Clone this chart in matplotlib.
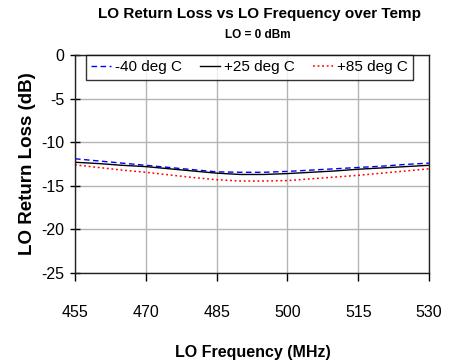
import matplotlib
matplotlib.use("Agg")
import matplotlib.pyplot as plt

freq = [455, 460, 465, 470, 475, 480, 485, 490, 495, 500, 505, 510, 515, 520, 525, 530]
rl_m40 = [-11.9, -12.15, -12.4, -12.65, -12.9, -13.15, -13.4, -13.45, -13.45, -13.35, -13.2, -13.05, -12.9, -12.75, -12.55, -12.4]
rl_p25 = [-12.3, -12.45, -12.65, -12.8, -13.05, -13.3, -13.55, -13.7, -13.7, -13.6, -13.45, -13.3, -13.1, -12.95, -12.8, -12.65]
rl_p85 = [-12.6, -12.9, -13.2, -13.45, -13.75, -14.05, -14.3, -14.45, -14.45, -14.4, -14.2, -14.0, -13.8, -13.55, -13.3, -13.05]
labels = ["-40 deg C", "+25 deg C", "+85 deg C"]
xticks = [455, 470, 485, 500, 515, 530]
yticks = [0, -5, -10, -15, -20, -25]

plt.rcParams['font.family'] = ['Liberation Sans', 'DejaVu Sans']
plt.rcParams['axes.unicode_minus'] = False

fig = plt.figure(figsize=(4.56, 3.64), dpi=100)
ax = fig.add_axes([75/456, 1-273/364, (429-75)/456, (273-55)/364])

ax.plot(freq, rl_m40, color='#0000ff', ls=(0, (4, 2.5)), lw=1, label=labels[0])
ax.plot(freq, rl_p25, color='black', ls='-', lw=1, label=labels[1])
ax.plot(freq, rl_p85, color='#ff0000', ls=(0, (1.2, 1.8)), lw=1.1, label=labels[2])

ax.set_xlim(455, 530)
ax.set_ylim(-25, 0)
ax.set_xticks(xticks)
ax.set_yticks(yticks)
ax.grid(True, color='#b4b4b4', lw=1)
ax.set_axisbelow(True)
for s in ax.spines.values():
    s.set_color('#222222')
    s.set_linewidth(1)

ax.tick_params(axis='x', direction='out', length=6, width=1, pad=17, labelsize=11.5)
ax.tick_params(axis='y', direction='inout', length=7, width=1, pad=4, labelsize=11.5)

leg = ax.legend(loc='upper center', ncol=3, frameon=True, fancybox=False,
                edgecolor='black', fontsize=11, handlelength=1.3,
                handletextpad=0.25, columnspacing=1.2, borderpad=0.35,
                borderaxespad=0.0, bbox_to_anchor=(0.493, 1.0))
leg.get_frame().set_linewidth(1)

fig.text(259/456, 1-14/364, "LO Return Loss vs LO Frequency over Temp",
         ha='center', va='center', fontsize=11, fontweight='bold')
fig.text(258/456, 1-35/364, "LO = 0 dBm", ha='center', va='center',
         fontsize=8.5, fontweight='bold')
fig.text(253/456, 1-352/364, "LO Frequency (MHz)", ha='center', va='center',
         fontsize=11.5, fontweight='bold')
fig.text(28/456, 1-164/364, "LO Return Loss (dB)", ha='center', va='center',
         rotation=90, fontsize=13.5, fontweight='bold')

fig.savefig("out.png", dpi=100)
